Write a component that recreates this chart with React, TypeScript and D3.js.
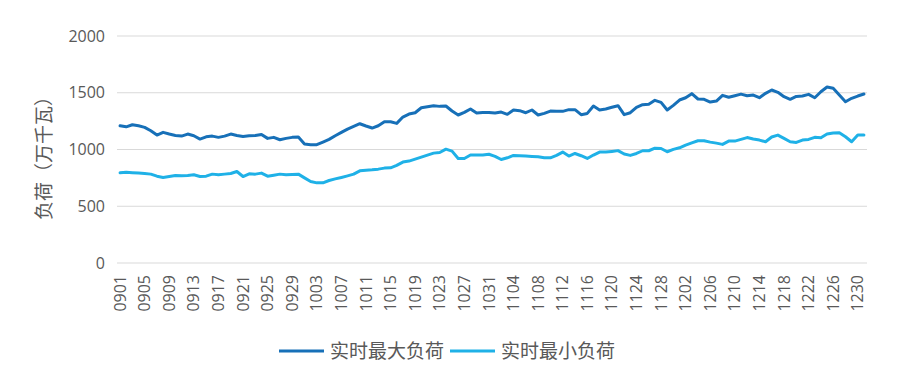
import React, { useRef, useEffect } from 'react';
import * as d3 from 'd3';

// daily categories 09-01 .. 12-31
const dates: string[] = d3.timeDay
  .range(new Date(2023, 8, 1), new Date(2024, 0, 1))
  .map(d3.timeFormat('%m%d'));

const maxLoad: number[] = [
  1209, 1200, 1218, 1209, 1195, 1165, 1127, 1151, 1136, 1124,
  1118, 1136, 1121, 1092, 1112, 1118, 1107, 1118, 1136, 1124,
  1115, 1121, 1124, 1133, 1098, 1107, 1086, 1098, 1107, 1110,
  1048, 1042, 1042, 1065, 1089, 1121, 1151, 1180, 1204, 1227,
  1207, 1189, 1209, 1245, 1245, 1230, 1286, 1312, 1324, 1368,
  1377, 1386, 1380, 1383, 1339, 1304, 1327, 1357, 1321, 1327,
  1327, 1321, 1330, 1310, 1348, 1342, 1324, 1348, 1304, 1318,
  1339, 1336, 1336, 1351, 1351, 1307, 1318, 1383, 1348, 1357,
  1372, 1386, 1307, 1324, 1372, 1395, 1398, 1433, 1415, 1348,
  1389, 1436, 1456, 1492, 1445, 1442, 1418, 1427, 1477, 1460,
  1474, 1488, 1474, 1480, 1456, 1495, 1524, 1504, 1465, 1442,
  1468, 1471, 1486, 1456, 1509, 1551, 1539, 1480, 1421, 1451,
  1471, 1489,
];

const minLoad: number[] = [
  795, 800, 796, 792, 789, 783, 765, 754, 762, 771,
  768, 771, 777, 762, 765, 783, 777, 783, 789, 806,
  762, 786, 783, 792, 765, 774, 783, 777, 780, 783,
  750, 718, 706, 706, 727, 741, 754, 768, 783, 812,
  818, 821, 827, 836, 839, 860, 889, 898, 915, 933,
  951, 968, 974, 1003, 986, 921, 921, 951, 951, 951,
  958, 940, 912, 927, 948, 945, 942, 939, 936, 927,
  927, 948, 977, 942, 965, 945, 921, 951, 977, 977,
  983, 990, 960, 948, 965, 989, 989, 1012, 1009, 980,
  1001, 1015, 1039, 1059, 1077, 1077, 1065, 1056, 1045, 1074,
  1074, 1089, 1105, 1092, 1083, 1068, 1110, 1127, 1098, 1068,
  1062, 1083, 1089, 1107, 1103, 1136, 1145, 1148, 1112, 1068,
  1127, 1127,
];

const yTicks = [0, 500, 1000, 1500, 2000];
const seriesNames = ['实时最大负荷', '实时最小负荷'];
const colors = ['#1770b8', '#1fb1e7'];
const yTitle = '负荷（万千瓦）';

const W = 902;
const H = 370;
const margin = { top: 36, right: 35, bottom: 107, left: 117 };
const numFont = '"Open Sans", "Noto Sans", sans-serif';
const cjkFont = '"Noto Sans CJK SC", sans-serif';

const App: React.FC = () => {
  const svgRef = useRef<SVGSVGElement>(null);

  useEffect(() => {
    if (!svgRef.current) return;
    const svg = d3.select(svgRef.current);
    svg.selectAll('*').remove();

    const x = d3.scaleBand()
      .domain(dates)
      .range([margin.left, W - margin.right]);

    const y = d3.scaleLinear()
      .domain([0, 2000])
      .range([H - margin.bottom, margin.top]);

    // Grid lines
    svg.append('g')
      .selectAll('line')
      .data(yTicks)
      .join('line')
      .attr('x1', margin.left)
      .attr('x2', W - margin.right)
      .attr('y1', d => y(d))
      .attr('y2', d => y(d))
      .attr('stroke', '#d9d9d9')
      .attr('stroke-width', 1);

    // Y labels
    svg.append('g')
      .selectAll('text')
      .data(yTicks)
      .join('text')
      .attr('x', margin.left - 12)
      .attr('y', d => y(d))
      .attr('dy', '0.35em')
      .attr('text-anchor', 'end')
      .attr('fill', '#595959')
      .attr('font-family', numFont)
      .attr('font-size', 16)
      .text(d => d);

    // X labels, every 4th day, rotated
    const xLabels = dates.filter((_, i) => i % 4 === 0);
    svg.append('g')
      .selectAll('text')
      .data(xLabels)
      .join('text')
      .attr('transform', d => `translate(${x(d)! + x.bandwidth() / 2},${H - margin.bottom + 12}) rotate(-90)`)
      .attr('dy', '0.35em')
      .attr('text-anchor', 'end')
      .attr('fill', '#595959')
      .attr('font-family', numFont)
      .attr('font-size', 16)
      .text(d => d);

    // Y title
    svg.append('text')
      .attr('transform', `translate(44,${(margin.top + H - margin.bottom) / 2 + 4}) rotate(-90)`)
      .attr('dy', '0.35em')
      .attr('text-anchor', 'middle')
      .attr('fill', '#595959')
      .attr('font-family', cjkFont)
      .attr('font-size', 19)
      .text(yTitle);

    // Lines
    const line = d3.line<number>()
      .x((_, i) => x(dates[i])! + x.bandwidth() / 2)
      .y(d => y(d));

    [maxLoad, minLoad].forEach((s, k) => {
      svg.append('path')
        .datum(s)
        .attr('d', line)
        .attr('fill', 'none')
        .attr('stroke', colors[k])
        .attr('stroke-width', 3)
        .attr('stroke-linejoin', 'round')
        .attr('stroke-linecap', 'round');
    });

    // Legend
    const legendY = 351;
    const legendX = [279, 450];
    seriesNames.forEach((name, k) => {
      const g = svg.append('g').attr('transform', `translate(${legendX[k]},${legendY})`);
      g.append('line')
        .attr('x1', 0)
        .attr('x2', 45)
        .attr('stroke', colors[k])
        .attr('stroke-width', 3);
      g.append('text')
        .attr('x', 51)
        .attr('dy', '0.35em')
        .attr('fill', '#595959')
        .attr('font-family', cjkFont)
        .attr('font-size', 19)
        .text(name);
    });
  }, []);

  return (
    <svg
      ref={svgRef}
      width={W}
      height={H}
      style={{ position: 'absolute', left: 0, top: 0, background: '#fff' }}
    />
  );
};

export default App;
